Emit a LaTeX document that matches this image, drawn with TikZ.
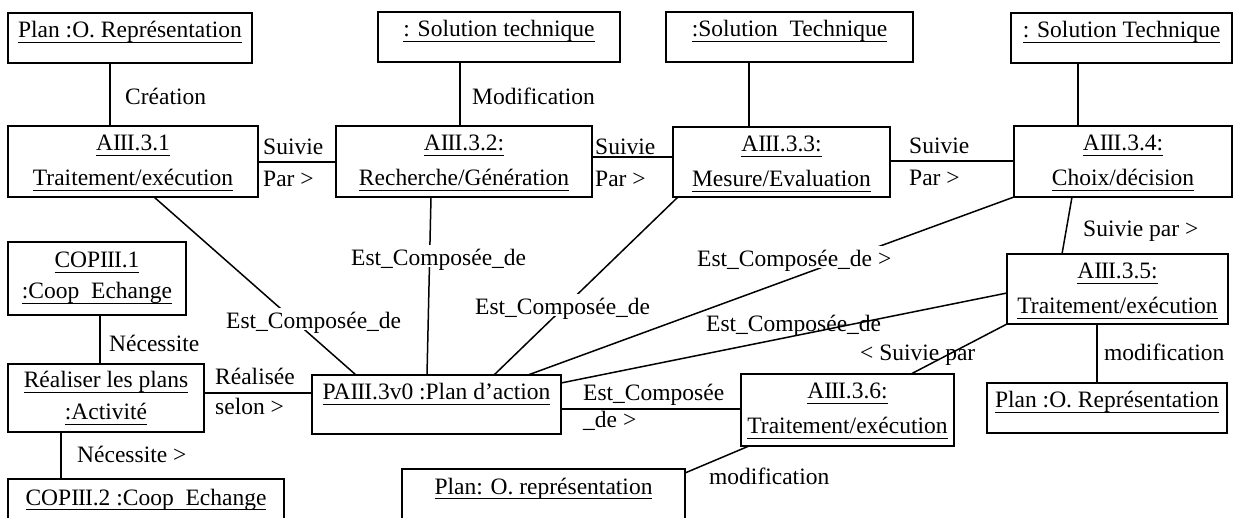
\documentclass[tikz,border=0pt]{standalone}
\usepackage{fontspec}
\setmainfont{Liberation Serif}
\usetikzlibrary{calc}
\newcommand\ulx[1]{\leavevmode\setbox0\hbox{#1}\rlap{\rule[-5pt]{\wd0}{1.3pt}}\box0}
\newcommand\rIII{I\kern-0.04em I\kern-0.04em I}
\newcommand\mkbox[5]{\node[boxst, minimum width={(#4-#2)*1pt}, minimum height={(#5-#3)*1pt}] (#1) at (#2,#3) {};}
\newcommand\tl[4]{\node[txt] (#1) at ($(#2.north)+(0,#3)$) {\ulx{#4}};}
\begin{document}
\begin{tikzpicture}[x=1pt,y=-1pt,
  boxst/.style={draw, line width=1.6pt, inner sep=0pt, outer sep=0pt, anchor=north west},
  txt/.style={font=\fontsize{23.5pt}{28pt}\selectfont, inner sep=0pt, anchor=base},
  lbl/.style={font=\fontsize{23.5pt}{28pt}\selectfont, inner sep=0pt, anchor=base west},
  gap/.style={lbl, fill=white, text height=20pt, text depth=0pt, inner ysep=1pt, inner xsep=1pt},
  conn/.style={line width=1.5pt}]
\fill[white] (0,0) rectangle (1235,518);
\useasboundingbox (0,0) rectangle (1235,518);

% boxes
\mkbox{planA}{8}{13}{252}{63}
\mkbox{solA}{378}{12}{620}{62}
\mkbox{solB}{666}{12}{913}{62}
\mkbox{solC}{1011}{13}{1232}{63}
\mkbox{a31}{8}{126}{258}{197}
\mkbox{a32}{336}{126}{592}{197}
\mkbox{a33}{673}{127}{890}{197}
\mkbox{a34}{1014}{126}{1232}{197}
\mkbox{a35}{1007}{254}{1228}{324}
\mkbox{a36}{741}{374}{954}{446}
\mkbox{planB}{987}{383}{1227}{433}
\mkbox{planC}{402}{469}{685}{530}
\mkbox{copA}{8}{242}{186}{315}
\mkbox{real}{8}{364}{204}{432}
\mkbox{pa}{312}{375}{561}{434}
\mkbox{copB}{8}{479}{284}{530}

% box texts
\tl{planAt}{planA}{25}{Plan :O. Représentation}
\tl{solAt}{solA}{25}{: Solution technique}
\tl{solBt}{solB}{25}{:Solution\ \ Technique}
\tl{solCt}{solC}{25}{: Solution Technique}
\tl{a31t}{a31}{25}{A\rIII.3.1}
\tl{a31u}{a31}{60}{Traitement/exécution}
\tl{a32t}{a32}{25}{A\rIII.3.2:}
\tl{a32u}{a32}{60}{Recherche/Génération}
\tl{a33t}{a33}{25}{A\rIII.3.3:}
\tl{a33u}{a33}{60}{Mesure/Evaluation}
\tl{a34t}{a34}{25}{A\rIII.3.4:}
\tl{a34u}{a34}{60}{Choix/décision}
\tl{a35t}{a35}{25}{A\rIII.3.5:}
\tl{a35u}{a35}{60}{Traitement/exécution}
\tl{a36t}{a36}{25}{A\rIII.3.6:}
\tl{a36u}{a36}{60}{Traitement/exécution}
\tl{planBt}{planB}{25}{Plan :O. Représentation}
\tl{planCt}{planC}{25}{Plan: O. représentation}
\tl{copAt}{copA}{26}{COP\rIII.1}
\tl{copAu}{copA}{57}{:Coop\ \ Echange}
\tl{realt}{real}{24}{Réaliser les plans}
\tl{realu}{real}{56}{:Activité}
\tl{pat}{pa}{25}{PA\rIII.3v0 :Plan d’action}
\tl{copBt}{copB}{26}{COP\rIII.2 :Coop\ \ Echange}

% connectors
\draw[conn] ([xshift=102pt]planA.south west) -- ([xshift=102pt]a31.north west);
\draw[conn] ([xshift=82pt]solA.south west) -- ([xshift=124pt]a32.north west);
\draw[conn] ([xshift=83pt]solB.south west) -- ([xshift=76pt]a33.north west);
\draw[conn] ([xshift=67pt]solC.south west) -- ([xshift=64pt]a34.north west);
\draw[conn] ([yshift=-36pt]a31.north east) -- ([yshift=-36pt]a32.north west);
\draw[conn] ([yshift=-31pt]a32.north east) -- ([yshift=-30pt]a33.north west);
\draw[conn] ([yshift=-34pt]a33.north east) -- ([yshift=-35pt]a34.north west);
\draw[conn] ([xshift=58pt]a34.south west) -- ([xshift=55pt]a35.north west);
\draw[conn] ([xshift=146pt]a31.south west) -- ([xshift=44pt]pa.north west);
\draw[conn] ([xshift=95pt]a32.south west) -- ([xshift=115pt]pa.north west);
\draw[conn] ([xshift=5pt]a33.south west) -- ([xshift=182pt]pa.north west);
\draw[conn] (a34.south west) -- ([xshift=216pt]pa.north west);
\draw[conn] ([yshift=-39pt]a35.north west) -- ([yshift=-8pt]pa.north east);
\draw[conn] (a35.south west) -- ([xshift=170pt]a36.north west);
\draw[conn] ([xshift=90pt]a35.south west) -- ([xshift=110pt]planB.north west);
\draw[conn] ([yshift=-34pt]pa.north east) -- ([yshift=-35pt]a36.north west);
\draw[conn] ([xshift=8pt]a36.south west) -- ([yshift=-4pt]planC.north east);
\draw[conn] ([xshift=92pt]copA.south west) -- ([xshift=92pt]real.north west);
\draw[conn] ([yshift=-29pt]real.north east) -- ([yshift=-18pt]pa.north west);
\draw[conn] ([xshift=53pt]real.south west) -- ([xshift=53pt]copB.north west);

% connector labels
\node[lbl] (lCre) at (125,105) {Création};
\node[lbl] (lMod) at (472,105) {Modification};
\node[lbl] (lS1) at (263,155) {Suivie};
\node[lbl] (lP1) at (263,187) {Par >};
\node[lbl] (lS2) at (595,155) {Suivie};
\node[lbl] (lP2) at (595,187) {Par >};
\node[lbl] (lS3) at (909,154) {Suivie};
\node[lbl] (lP3) at (909,186) {Par >};
\node[lbl] (lS4) at (1083,237) {Suivie par >};
\node[gap] (lE2) at (350,266) {Est\_Composée\_de};
\node[gap] (lE1) at (225,329) {Est\_Composée\_de};
\node[gap] (lE3) at (474,315) {Est\_Composée\_de};
\node[gap] (lE4) at (696,267) {Est\_Composée\_de >};
\node[lbl] (lE5) at (706,332) {Est\_Composée\_de};
\node[lbl] (lS5) at (860,361) {< Suivie par};
\node[lbl] (lM2) at (1104,361) {modification};
\node[lbl] (lE6) at (583,401) {Est\_Composée};
\node[lbl] (lE6b) at (583,428) {\_de >};
\node[lbl] (lM3) at (709,485) {modification};
\node[lbl] (lN1) at (109,352) {Nécessite};
\node[lbl] (lR1) at (215,385) {Réalisée};
\node[lbl] (lR2) at (215,415) {selon >};
\node[lbl] (lN2) at (77,463) {Nécessite >};
\end{tikzpicture}
\end{document}
